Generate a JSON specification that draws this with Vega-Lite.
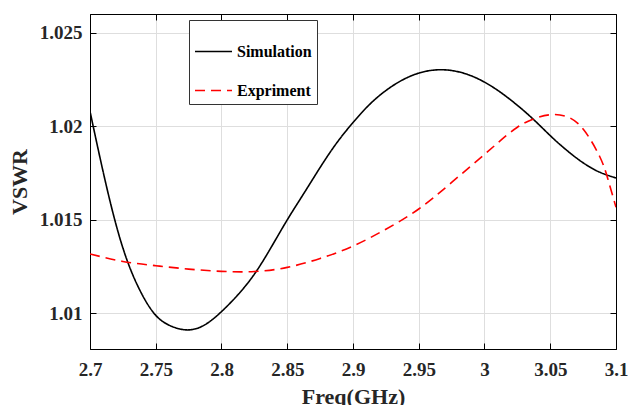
{
  "$schema": "https://vega.github.io/schema/vega-lite/v6.json",
  "width": 526,
  "height": 335,
  "autosize": {"type": "none"},
  "padding": {"left": 90, "top": 14, "right": 12, "bottom": 56},
  "background": "white",
  "config": {
    "font": "Liberation Serif",
    "view": {"stroke": "black", "strokeWidth": 1},
    "axis": {
      "domainColor": "black",
      "domainWidth": 1,
      "tickColor": "black",
      "tickSize": -6,
      "tickWidth": 1,
      "gridColor": "#dedede",
      "gridWidth": 1,
      "labelFont": "Liberation Serif",
      "labelFontWeight": "bold",
      "labelFontSize": 19,
      "labelColor": "#262626",
      "titleFont": "Liberation Serif",
      "titleFontWeight": "bold",
      "titleFontSize": 22,
      "titleColor": "#262626"
    },
    "legend": {
      "orient": "none",
      "legendX": 99,
      "legendY": 6,
      "fillColor": "white",
      "strokeColor": "#333333",
      "padding": 5,
      "labelFont": "Liberation Serif",
      "labelFontWeight": "bold",
      "labelFontSize": 16,
      "labelColor": "black",
      "symbolSize": 1369,
      "symbolStrokeWidth": 1.6,
      "rowPadding": 11,
      "labelOffset": 4,
      "titleFontSize": 3,
      "titlePadding": 4
    }
  },
  "data": {
    "values": [
      {"f": 2.7, "v": 1.0208, "s": "Simulation"},
      {"f": 2.7125, "v": 1.0168, "s": "Simulation"},
      {"f": 2.725, "v": 1.0135, "s": "Simulation"},
      {"f": 2.7375, "v": 1.0113, "s": "Simulation"},
      {"f": 2.75, "v": 1.0099, "s": "Simulation"},
      {"f": 2.7625, "v": 1.0093, "s": "Simulation"},
      {"f": 2.775, "v": 1.00912, "s": "Simulation"},
      {"f": 2.7875, "v": 1.0094, "s": "Simulation"},
      {"f": 2.8, "v": 1.0101, "s": "Simulation"},
      {"f": 2.8125, "v": 1.011, "s": "Simulation"},
      {"f": 2.825, "v": 1.0121, "s": "Simulation"},
      {"f": 2.8375, "v": 1.0135, "s": "Simulation"},
      {"f": 2.85, "v": 1.015, "s": "Simulation"},
      {"f": 2.8625, "v": 1.0164, "s": "Simulation"},
      {"f": 2.875, "v": 1.0178, "s": "Simulation"},
      {"f": 2.8875, "v": 1.0191, "s": "Simulation"},
      {"f": 2.9, "v": 1.0202, "s": "Simulation"},
      {"f": 2.9125, "v": 1.02116, "s": "Simulation"},
      {"f": 2.925, "v": 1.02191, "s": "Simulation"},
      {"f": 2.9375, "v": 1.02247, "s": "Simulation"},
      {"f": 2.95, "v": 1.02284, "s": "Simulation"},
      {"f": 2.9625, "v": 1.02301, "s": "Simulation"},
      {"f": 2.975, "v": 1.02298, "s": "Simulation"},
      {"f": 2.9875, "v": 1.02276, "s": "Simulation"},
      {"f": 3.0, "v": 1.02236, "s": "Simulation"},
      {"f": 3.0125, "v": 1.0218, "s": "Simulation"},
      {"f": 3.025, "v": 1.02112, "s": "Simulation"},
      {"f": 3.0375, "v": 1.02035, "s": "Simulation"},
      {"f": 3.05, "v": 1.0195, "s": "Simulation"},
      {"f": 3.0625, "v": 1.01872, "s": "Simulation"},
      {"f": 3.075, "v": 1.01805, "s": "Simulation"},
      {"f": 3.0875, "v": 1.01755, "s": "Simulation"},
      {"f": 3.1, "v": 1.01724, "s": "Simulation"},
      {"f": 2.7, "v": 1.01318, "s": "Expriment"},
      {"f": 2.725, "v": 1.01278, "s": "Expriment"},
      {"f": 2.75, "v": 1.01255, "s": "Expriment"},
      {"f": 2.775, "v": 1.01237, "s": "Expriment"},
      {"f": 2.8, "v": 1.01225, "s": "Expriment"},
      {"f": 2.825, "v": 1.01224, "s": "Expriment"},
      {"f": 2.85, "v": 1.01246, "s": "Expriment"},
      {"f": 2.875, "v": 1.01294, "s": "Expriment"},
      {"f": 2.9, "v": 1.0136, "s": "Expriment"},
      {"f": 2.925, "v": 1.0145, "s": "Expriment"},
      {"f": 2.95, "v": 1.01558, "s": "Expriment"},
      {"f": 2.975, "v": 1.017, "s": "Expriment"},
      {"f": 3.0, "v": 1.0185, "s": "Expriment"},
      {"f": 3.0125, "v": 1.01926, "s": "Expriment"},
      {"f": 3.025, "v": 1.01995, "s": "Expriment"},
      {"f": 3.0375, "v": 1.0204, "s": "Expriment"},
      {"f": 3.05, "v": 1.02062, "s": "Expriment"},
      {"f": 3.0625, "v": 1.02052, "s": "Expriment"},
      {"f": 3.075, "v": 1.01985, "s": "Expriment"},
      {"f": 3.0875, "v": 1.0184, "s": "Expriment"},
      {"f": 3.09375, "v": 1.0172, "s": "Expriment"},
      {"f": 3.1, "v": 1.01567, "s": "Expriment"}
    ]
  },
  "layer": [
    {
      "mark": {"type": "line", "strokeWidth": 1.6, "interpolate": "natural", "clip": true},
      "encoding": {
        "x": {
          "field": "f", "type": "quantitative",
          "scale": {"domain": [2.7, 3.1], "nice": false, "zero": false},
          "axis": {"orient": "bottom", "title": "Freq(GHz)", "values": [2.7, 2.75, 2.8, 2.85, 2.9, 2.95, 3, 3.05, 3.1], "format": ".2~f", "labelPadding": 17, "titlePadding": 7, "labelFlush": false, "labelOverlap": false}
        },
        "y": {
          "field": "v", "type": "quantitative",
          "scale": {"domain": [1.0081, 1.026], "nice": false, "zero": false},
          "axis": {"orient": "left", "title": "VSWR", "values": [1.01, 1.015, 1.02, 1.025], "format": ".3~f", "labelPadding": 14, "titlePadding": 8, "labelFlush": false}
        },
        "color": {
          "field": "s", "type": "nominal",
          "scale": {"domain": ["Simulation", "Expriment"], "range": ["black", "#ff0000"]},
          "legend": {"title": " "}
        },
        "strokeDash": {
          "field": "s", "type": "nominal",
          "scale": {"domain": ["Simulation", "Expriment"], "range": [[1, 0], [10, 6]]},
          "legend": {"title": " "}
        }
      }
    },
    {
      "mark": {"type": "line", "opacity": 0},
      "encoding": {
        "x": {
          "field": "f", "type": "quantitative",
          "axis": {"orient": "top", "title": null, "labels": false, "grid": false, "values": [2.7, 2.75, 2.8, 2.85, 2.9, 2.95, 3, 3.05, 3.1]}
        },
        "y": {
          "field": "v", "type": "quantitative",
          "axis": {"orient": "right", "title": null, "labels": false, "grid": false, "values": [1.01, 1.015, 1.02, 1.025]}
        },
        "detail": {"field": "s", "type": "nominal"}
      }
    }
  ],
  "resolve": {"axis": {"x": "independent", "y": "independent"}}
}
